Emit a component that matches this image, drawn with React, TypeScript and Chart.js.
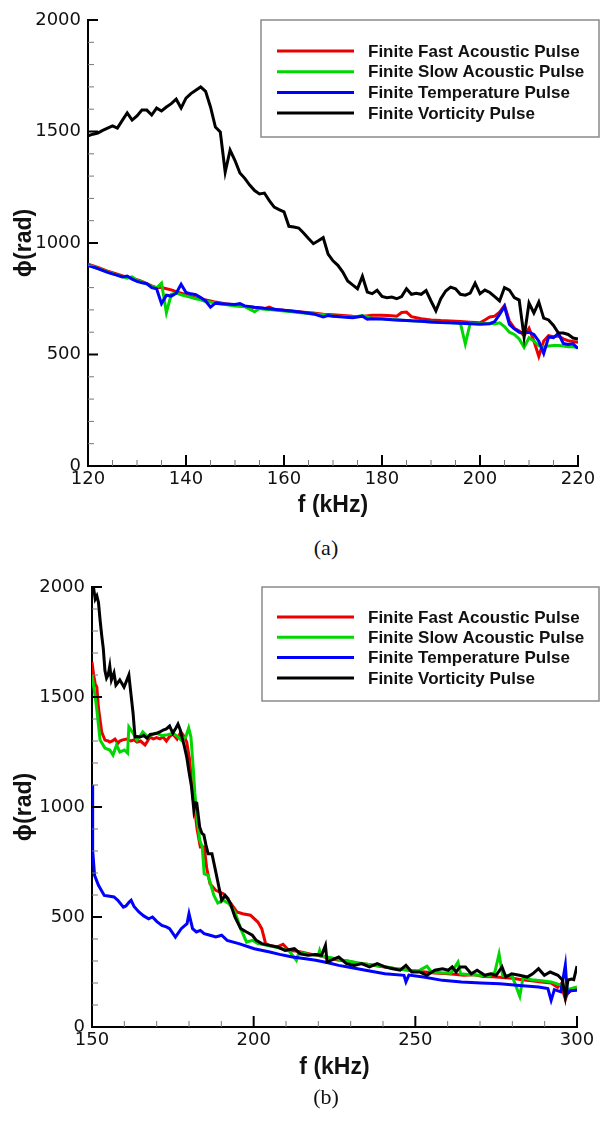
import React, { useEffect, useRef } from 'react';
import { Chart, registerables } from 'chart.js';

Chart.register(...registerables);

const SERIES_LABELS = [
  'Finite Fast Acoustic Pulse',
  'Finite Slow Acoustic Pulse',
  'Finite Temperature Pulse',
  'Finite Vorticity Pulse',
];
const SERIES_COLORS = ['rgb(235,0,0)', 'rgb(0,215,0)', 'rgb(0,0,255)', '#000000'];

const X_TITLE = 'f (kHz)';
const Y_TITLE = 'ϕ(rad)';

// ---------- Panel (a) ----------
const aFastF = [120, 122, 124, 126, 128, 129, 130, 131, 132, 133, 134, 135, 136, 137, 138, 139, 140, 141, 142, 143, 144, 145, 146, 148, 150, 152, 154, 156, 157, 158, 160, 162, 164, 166, 168, 170, 172, 174, 176, 178, 180, 182, 183, 184, 185, 186, 188, 190, 192, 194, 196, 198, 200, 201, 202, 203, 204, 205, 206, 207, 208, 209, 210, 211, 212, 213, 214, 215, 216, 217, 218, 219, 220];
const aFastPhi = [905, 890, 874, 860, 846, 843, 835, 828, 818, 808, 800, 800, 795, 790, 782, 775, 768, 760, 754, 750, 745, 740, 735, 728, 722, 716, 711, 706, 713, 702, 698, 694, 690, 686, 681, 678, 675, 672, 670, 676, 676, 674, 672, 688, 690, 670, 660, 655, 652, 650, 648, 645, 642, 655, 668, 672, 690, 720, 650, 618, 605, 585, 618, 560, 492, 560, 585, 580, 583, 570, 562, 558, 555];

const aSlowF = [120, 122, 124, 126, 128, 129, 130, 131, 132, 133, 134, 135, 136, 137, 138, 139, 140, 141, 142, 143, 144, 145, 146, 148, 150, 152, 154, 155, 156, 158, 160, 162, 164, 166, 168, 170, 172, 174, 176, 178, 180, 182, 184, 186, 188, 190, 192, 194, 196, 197, 198, 200, 202, 203, 204, 205, 206, 207, 208, 209, 210, 211, 212, 213, 214, 215, 216, 217, 218, 219, 220];
const aSlowPhi = [902, 886, 870, 856, 842, 848, 832, 825, 815, 805, 798, 820, 688, 770, 775, 768, 762, 756, 750, 745, 738, 735, 730, 724, 718, 714, 692, 706, 703, 699, 695, 690, 686, 682, 678, 673, 670, 667, 675, 662, 660, 657, 654, 651, 649, 646, 644, 642, 640, 547, 640, 638, 640, 637, 642, 625, 600, 590, 570, 532, 575, 560, 540, 535, 538, 540, 540, 538, 535, 535, 530];

const aTempF = [120, 122, 124, 126, 127, 128, 129, 130, 131, 132, 133, 134, 135, 136, 137, 138, 139, 140, 141, 142, 143, 144, 145, 146, 148, 150, 151, 152, 154, 156, 158, 160, 162, 164, 166, 168, 169, 170, 172, 174, 176, 177, 178, 180, 182, 184, 186, 188, 190, 192, 194, 196, 198, 200, 202, 203, 204, 205, 206, 207, 208, 209, 210, 211, 212, 213, 214, 215, 216, 217, 218, 219, 220];
const aTempPhi = [900, 885, 868, 855, 848, 852, 838, 828, 822, 818, 800, 795, 728, 766, 762, 775, 815, 778, 772, 768, 755, 740, 712, 730, 727, 724, 728, 718, 712, 707, 703, 698, 694, 688, 682, 668, 675, 672, 668, 665, 672, 658, 660, 659, 656, 654, 651, 649, 646, 644, 642, 640, 638, 636, 638, 648, 680, 715, 635, 615, 600, 598, 600, 590, 560, 505, 578, 575, 595, 550, 545, 548, 527];

const aVortF = [120, 121, 122, 123, 124, 125, 126, 127, 128, 129, 130, 131, 132, 133, 134, 135, 136, 137, 138, 139, 140, 141, 142, 143, 144, 145, 146, 147, 148, 149, 150, 151, 152, 153, 154, 155, 156, 157, 158, 159, 160, 161, 162, 163, 164, 165, 166, 167, 168, 169, 170, 171, 172, 173, 174, 175, 176, 177, 178, 179, 180, 181, 182, 183, 184, 185, 186, 187, 188, 189, 190, 191, 192, 193, 194, 195, 196, 197, 198, 199, 200, 201, 202, 203, 204, 205, 206, 207, 208, 209, 210, 211, 212, 213, 214, 215, 216, 217, 218, 219, 220];
const aVortPhi = [1480, 1488, 1493, 1505, 1515, 1525, 1515, 1550, 1583, 1551, 1570, 1596, 1596, 1574, 1605, 1592, 1610, 1625, 1645, 1605, 1650, 1670, 1685, 1700, 1680, 1610, 1520, 1498, 1318, 1417, 1370, 1314, 1290, 1260, 1235, 1220, 1224, 1190, 1161, 1150, 1140, 1075, 1072, 1067, 1045, 1020, 997, 1010, 1024, 950, 920, 900, 870, 830, 812, 795, 851, 780, 773, 788, 760, 755, 758, 750, 760, 795, 770, 775, 770, 787, 740, 696, 750, 785, 802, 795, 770, 766, 775, 820, 773, 789, 778, 760, 740, 800, 789, 755, 744, 578, 731, 686, 735, 663, 655, 630, 596, 596, 590, 574, 569];

// ---------- Panel (b) ----------
const bFastF = [150, 150.5, 151, 151.5, 152, 153, 154, 155, 155.5, 156.3, 157.1, 158, 158.6, 159.5, 160.8, 162, 163, 163.9, 165, 166.4, 167.2, 167.9, 169, 170, 171, 172, 173, 174, 175, 176.3, 177.5, 178.5, 179.3, 180.2, 181.2, 181.7, 182.5, 183.5, 184.7, 185.5, 186.5, 188.3, 190.6, 193, 194.8, 196.6, 199, 201.3, 202.5, 203.7, 204.9, 207.3, 209.1, 210.9, 213, 215, 218, 220, 223, 226, 229, 232, 235, 238, 241, 244, 247, 250, 253, 256, 259, 262, 265, 268, 271, 274, 277, 280, 283, 286, 289, 292, 294, 295, 296.4, 297, 298.2, 300];
const bFastPhi = [1659, 1600, 1560, 1545, 1450, 1341, 1304, 1300, 1295, 1300, 1309, 1290, 1300, 1305, 1309, 1300, 1305, 1295, 1300, 1282, 1300, 1318, 1310, 1315, 1310, 1318, 1300, 1320, 1332, 1309, 1341, 1320, 1295, 1214, 1045, 1000, 900, 818, 818, 720, 651, 621, 606, 561, 523, 515, 508, 477, 447, 379, 371, 364, 376, 348, 345, 340, 330, 325, 315, 305, 300, 290, 285, 278, 272, 265, 260, 255, 250, 245, 243, 240, 235, 238, 230, 228, 225, 222, 215, 210, 205, 200, 180, 195, 127, 150, 167, 174];

const bSlowF = [150, 150.5, 151, 151.5, 152.5, 154, 155.5, 156.5, 157.6, 158.6, 160, 161, 161.4, 162.7, 163.9, 164.8, 165.7, 167.3, 168.5, 170, 171.5, 173, 175, 176.5, 177.6, 179, 179.9, 180.6, 181.2, 181.8, 182.5, 183.3, 184.1, 184.7, 185.9, 187.7, 188.9, 190.6, 192.4, 194.2, 196, 197.8, 199.6, 201.3, 203, 205, 207, 209, 211, 213.2, 214, 217, 220, 220.4, 221, 224, 227, 230, 233, 236, 239, 242, 245, 248, 251, 253.6, 255, 258, 261, 263.2, 264, 267, 270, 273, 274.6, 275.9, 277, 280, 282.3, 283.3, 286, 289, 292, 295, 297, 300];
const bSlowPhi = [1600, 1550, 1500, 1441, 1304, 1268, 1259, 1236, 1282, 1250, 1259, 1245, 1364, 1336, 1304, 1320, 1341, 1318, 1330, 1336, 1325, 1327, 1336, 1320, 1304, 1318, 1359, 1318, 1200, 1064, 950, 850, 818, 697, 689, 598, 564, 576, 560, 523, 447, 386, 394, 379, 375, 368, 362, 355, 345, 303, 340, 330, 328, 348, 322, 315, 305, 298, 290, 283, 278, 270, 262, 258, 255, 276, 250, 247, 245, 295, 242, 238, 235, 232, 250, 332, 235, 230, 140, 225, 215, 210, 205, 190, 170, 182];

const bTempF = [150, 150.1, 150.3, 150.8, 152, 153.8, 155, 156.8, 158, 159.7, 160.5, 161.5, 162.1, 163, 164.5, 166, 167.5, 168.7, 170, 171.6, 173, 174, 175.8, 177.6, 179.4, 180, 181.1, 182.3, 183.5, 184.7, 186.5, 188.3, 190.1, 191.8, 195.4, 200.2, 205, 208, 212, 216, 219.2, 223, 226.3, 230, 234.6, 240.6, 246.5, 247.1, 248, 252.5, 258.4, 264.3, 270.3, 276.2, 282.2, 288.1, 291, 292, 293, 295, 296.4, 297, 298, 300];
const bTempPhi = [1100, 900, 803, 689, 644, 598, 595, 591, 576, 545, 550, 568, 576, 548, 523, 505, 492, 500, 480, 462, 455, 447, 409, 447, 470, 515, 447, 432, 439, 424, 417, 409, 417, 394, 379, 356, 341, 330, 318, 310, 303, 292, 280, 270, 258, 242, 235, 205, 236, 227, 212, 205, 200, 197, 189, 182, 175, 121, 170, 160, 282, 152, 165, 167];

const bVortF = [150, 150.5, 151, 151.5, 152, 152.5, 153, 153.5, 154, 154.5, 155, 155.5, 156, 156.8, 157.4, 158, 158.6, 159.3, 159.9, 160.6, 161.4, 162, 162.7, 163.3, 164, 164.8, 166, 167, 168, 169, 170, 171, 172, 173, 174, 175, 176, 176.6, 177.3, 177.8, 178.5, 179.3, 180, 180.8, 181.5, 182, 182.4, 183.3, 184, 184.6, 185.2, 185.9, 187.1, 188.3, 189.2, 190.1, 191.2, 192, 192.8, 194.2, 196, 197.8, 199.6, 200.8, 202.5, 204.9, 207.3, 209.7, 212.6, 214.4, 216.8, 219.2, 221, 222.2, 222.7, 225.1, 226.3, 228.7, 231.1, 233.4, 235.8, 238.2, 240.6, 243, 245.3, 247.1, 248.9, 251.3, 253.6, 256, 258.4, 260.2, 261.4, 262.6, 263.8, 265.5, 267.3, 269.1, 271.5, 273.3, 275, 276.8, 278, 279.8, 282.2, 284.6, 286.3, 288.1, 289.9, 291.7, 294.1, 295.5, 296.4, 297.2, 298.3, 299, 300];
const bVortPhi = [1973, 1995, 1945, 1960, 1930, 1850, 1780, 1720, 1620, 1586, 1600, 1641, 1577, 1609, 1554, 1565, 1577, 1560, 1545, 1570, 1600, 1520, 1427, 1318, 1320, 1318, 1325, 1313, 1330, 1332, 1335, 1341, 1350, 1355, 1368, 1336, 1360, 1377, 1350, 1318, 1280, 1227, 1160, 1091, 986, 1020, 1018, 909, 880, 873, 830, 788, 788, 704, 640, 576, 598, 585, 561, 500, 447, 432, 417, 394, 379, 371, 364, 348, 356, 333, 326, 330, 326, 371, 295, 311, 318, 288, 280, 288, 273, 288, 273, 265, 258, 280, 250, 250, 235, 258, 265, 258, 273, 250, 273, 273, 242, 258, 235, 242, 235, 273, 227, 242, 235, 227, 242, 265, 235, 250, 235, 214, 136, 214, 218, 215, 277];

const PANEL_A = {
  xMin: 120, xMax: 220, xMajor: 20, xMinor: 5,
  yMin: 0, yMax: 2000, yMajor: 500, yMinor: 100,
  series: [[aFastF, aFastPhi], [aSlowF, aSlowPhi], [aTempF, aTempPhi], [aVortF, aVortPhi]],
};
const PANEL_B = {
  xMin: 150, xMax: 300, xMajor: 50, xMinor: 10,
  yMin: 0, yMax: 2000, yMajor: 500, yMinor: 100,
  series: [[bFastF, bFastPhi], [bSlowF, bSlowPhi], [bTempF, bTempPhi], [bVortF, bVortPhi]],
};

const TICK_FONT = "'DejaVu Sans', sans-serif";
const BOLD_FONT = "'Liberation Sans', Arial, Helvetica, sans-serif";

const inwardTicks = {
  id: 'inwardTicks',
  afterDraw(chart: any, _args: any, o: any) {
    const ctx = chart.ctx;
    const xs = chart.scales.x;
    const ys = chart.scales.y;
    const area = chart.chartArea;
    ctx.save();
    ctx.lineCap = 'butt';
    for (const t of xs.ticks) {
      const px = xs.getPixelForValue(t.value);
      const major = Math.abs(t.value % o.xMajor) < 1e-6;
      ctx.strokeStyle = major ? '#000' : '#777';
      ctx.lineWidth = major ? 2 : 1;
      ctx.beginPath();
      ctx.moveTo(px, area.bottom);
      ctx.lineTo(px, area.bottom - (major ? 11 : 6));
      ctx.stroke();
    }
    for (const t of ys.ticks) {
      const py = ys.getPixelForValue(t.value);
      const major = Math.abs(t.value % o.yMajor) < 1e-6;
      ctx.strokeStyle = major ? '#000' : '#777';
      ctx.lineWidth = major ? 2 : 1;
      ctx.beginPath();
      ctx.moveTo(area.left, py);
      ctx.lineTo(area.left + (major ? 10 : 6), py);
      ctx.stroke();
    }
    ctx.restore();
  },
};

const boxLegend = {
  id: 'boxLegend',
  afterDraw(chart: any, _args: any, o: any) {
    const ctx = chart.ctx;
    ctx.save();
    ctx.fillStyle = '#fff';
    ctx.fillRect(o.left, o.top, o.width, o.height);
    ctx.strokeStyle = '#8a8a8a';
    ctx.lineWidth = 1.5;
    ctx.strokeRect(o.left, o.top, o.width, o.height);
    ctx.font = `bold 17px ${BOLD_FONT}`;
    ctx.textBaseline = 'middle';
    ctx.textAlign = 'left';
    chart.data.datasets.forEach((ds: any, i: number) => {
      const yy = o.firstRow + i * o.rowGap;
      ctx.strokeStyle = ds.borderColor;
      ctx.lineWidth = 3;
      ctx.beginPath();
      ctx.moveTo(o.lineX0, yy);
      ctx.lineTo(o.lineX1, yy);
      ctx.stroke();
      ctx.fillStyle = '#111';
      ctx.fillText(ds.label, o.textX, yy + 1);
    });
    ctx.restore();
  },
};

function PanelChart({ panel, height, pad, yAxisWidth, plotBottom, xTitlePad, legend }: any) {
  const ref = useRef<HTMLCanvasElement>(null);
  useEffect(() => {
    const canvas = ref.current!;
    const datasets = panel.series.map(([fs, vs]: number[][], i: number) => ({
      label: SERIES_LABELS[i],
      data: fs.map((f: number, k: number) => ({ x: f, y: vs[k] })),
      borderColor: SERIES_COLORS[i],
      backgroundColor: SERIES_COLORS[i],
      borderWidth: 3,
      pointRadius: 0,
      tension: 0,
      fill: false,
      order: 4 - i,
    }));
    const chart = new Chart(canvas, {
      type: 'line',
      data: { datasets },
      plugins: [inwardTicks, boxLegend],
      options: {
        animation: false,
        responsive: false,
        events: [],
        layout: { padding: pad },
        plugins: {
          legend: { display: false },
          tooltip: { enabled: false },
          inwardTicks: { xMajor: panel.xMajor, yMajor: panel.yMajor },
          boxLegend: legend,
        } as any,
        scales: {
          x: {
            type: 'linear',
            min: panel.xMin,
            max: panel.xMax,
            grid: { display: false, drawTicks: false },
            border: { display: true, color: '#000', width: 2 },
            ticks: {
              stepSize: panel.xMinor,
              autoSkip: false,
              maxRotation: 0,
              padding: 3,
              color: '#111',
              font: { family: TICK_FONT, size: 18 },
              callback: (v: any) => (Math.abs(v % panel.xMajor) < 1e-6 ? String(v) : ''),
            },
            title: {
              display: true,
              text: X_TITLE,
              color: '#111',
              font: { family: BOLD_FONT, size: 23, weight: 'bold' },
              padding: { top: 0, bottom: xTitlePad },
            },
            afterFit: (s: any) => { s.height = height - plotBottom; },
          },
          y: {
            type: 'linear',
            min: panel.yMin,
            max: panel.yMax,
            grid: { display: false, drawTicks: false },
            border: { display: true, color: '#000', width: 2 },
            ticks: {
              stepSize: panel.yMinor,
              autoSkip: false,
              padding: 7,
              color: '#111',
              font: { family: TICK_FONT, size: 18 },
              callback: (v: any) => (Math.abs(v % panel.yMajor) < 1e-6 ? String(v) : ''),
            },
            title: {
              display: true,
              text: Y_TITLE,
              color: '#111',
              font: { family: BOLD_FONT, size: 23, weight: 'bold' },
              padding: { top: 11, bottom: 0 },
            },
            afterFit: (s: any) => { s.width = yAxisWidth; },
          },
        },
      } as any,
    });
    return () => chart.destroy();
  }, []);
  return <canvas ref={ref} width={601} height={height} style={{ display: 'block', width: 601, height }} />;
}

const captionStyle: React.CSSProperties = {
  position: 'absolute',
  left: 326,
  transform: 'translateX(-50%)',
  fontFamily: "'Liberation Serif', 'DejaVu Serif', serif",
  fontSize: 22,
  lineHeight: '24px',
  color: '#111',
  whiteSpace: 'nowrap',
};

export default function App() {
  return (
    <div style={{ position: 'absolute', left: 0, top: 0, width: 601, height: 1124, background: '#fff' }}>
      <div style={{ position: 'absolute', left: 0, top: 0 }}>
        <PanelChart
          panel={PANEL_A}
          height={525}
          pad={{ left: 0, top: 20, right: 23, bottom: 0 }}
          yAxisWidth={88}
          plotBottom={466}
          xTitlePad={6}
          legend={{ left: 261, top: 20, width: 338, height: 117, lineX0: 277, lineX1: 354, textX: 368, firstRow: 51, rowGap: 20.7 }}
        />
      </div>
      <div style={{ ...captionStyle, top: 536 }}>(a)</div>
      <div style={{ position: 'absolute', left: 0, top: 560 }}>
        <PanelChart
          panel={PANEL_B}
          height={525}
          pad={{ left: 0, top: 27, right: 24, bottom: 0 }}
          yAxisWidth={92}
          plotBottom={467}
          xTitlePad={4}
          legend={{ left: 262, top: 27, width: 337, height: 114, lineX0: 277, lineX1: 354, textX: 368, firstRow: 57, rowGap: 20.3 }}
        />
      </div>
      <div style={{ ...captionStyle, top: 1085 }}>(b)</div>
    </div>
  );
}
